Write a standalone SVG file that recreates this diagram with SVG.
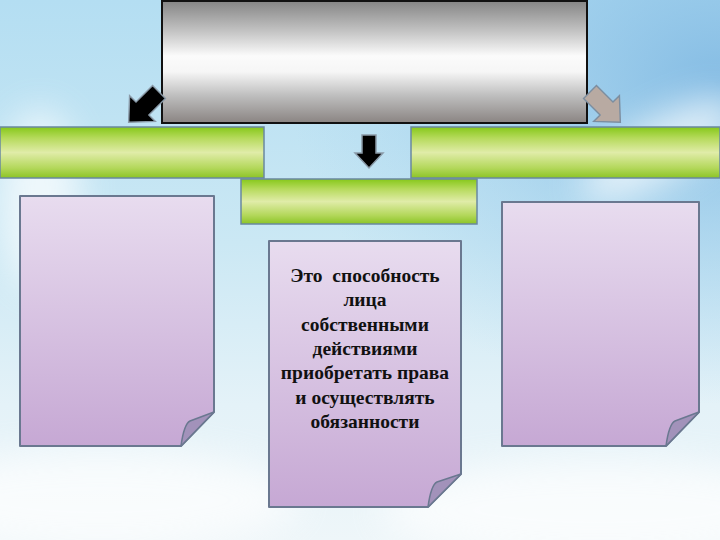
<svg xmlns="http://www.w3.org/2000/svg" width="720" height="540" viewBox="0 0 720 540">
<defs>
<linearGradient id="sky" x1="0" y1="0" x2="0" y2="1">
<stop offset="0" stop-color="#b4def2"/>
<stop offset="0.45" stop-color="#cbe8f4"/>
<stop offset="0.75" stop-color="#e4f2f8"/>
<stop offset="1" stop-color="#eef6f9"/>
</linearGradient>
<radialGradient id="blue" cx="1" cy="0.15" r="0.6">
<stop offset="0" stop-color="#7fb8e2" stop-opacity="0.9"/>
<stop offset="1" stop-color="#9fd0ee" stop-opacity="0"/>
</radialGradient>
<linearGradient id="silver" x1="0" y1="0" x2="0" y2="1">
<stop offset="0" stop-color="#858585"/>
<stop offset="0.25" stop-color="#c4c4c4"/>
<stop offset="0.45" stop-color="#fbfbfb"/>
<stop offset="0.58" stop-color="#f6f6f6"/>
<stop offset="0.78" stop-color="#bdbdbd"/>
<stop offset="1" stop-color="#8a8482"/>
</linearGradient>
<linearGradient id="green" x1="0" y1="0" x2="0" y2="1">
<stop offset="0" stop-color="#86c81a"/>
<stop offset="0.22" stop-color="#b6da5c"/>
<stop offset="0.5" stop-color="#e0eca8"/>
<stop offset="0.8" stop-color="#b4d85c"/>
<stop offset="1" stop-color="#8cc426"/>
</linearGradient>
<linearGradient id="lilac" x1="0" y1="0" x2="0" y2="1">
<stop offset="0" stop-color="#e8dcef"/>
<stop offset="1" stop-color="#c6a8d4"/>
</linearGradient>
<filter id="blur" x="-50%" y="-50%" width="200%" height="200%"><feGaussianBlur stdDeviation="18"/></filter>
<path id="arr" d="M-7,0 H7 V18 H14 L0,33 L-14,18 H-7 Z"/>
</defs>
<style>
.green{fill:url(#green);stroke:#6a88a0;stroke-width:1.5}
.page{fill:url(#lilac);stroke:#6a7890;stroke-width:2;stroke-linejoin:round}
.fold{fill:#a292ba;stroke:#6a7890;stroke-width:1.5;stroke-linejoin:round}
.txt{font-family:"Liberation Serif","DejaVu Serif",serif;font-weight:bold;font-size:19.5px;fill:#111;text-anchor:middle;white-space:pre}
</style>
<rect width="720" height="540" fill="url(#sky)"/>
<rect width="720" height="540" fill="url(#blue)"/>
<g filter="url(#blur)" fill="#ffffff" opacity="0.7">
<ellipse cx="660" cy="150" rx="90" ry="30" transform="rotate(-30 660 150)"/>
<ellipse cx="100" cy="500" rx="200" ry="50"/>
<ellipse cx="600" cy="510" rx="220" ry="50"/>
<ellipse cx="40" cy="200" rx="40" ry="90"/>
</g>
<g id="top">
<rect x="162" y="1" width="425" height="122" fill="url(#silver)" stroke="#111" stroke-width="2"/>
</g>
<g id="connectors">
<use href="#arr" transform="translate(159,92) rotate(45) scale(1.3)" fill="#000" stroke="#8a9aa8" stroke-width="1.1"/>
<use href="#arr" transform="translate(369,135)" fill="#000" stroke="#8a9aa8" stroke-width="1.5"/>
<use href="#arr" transform="translate(590,92) rotate(-45) scale(1.3)" fill="#b8aaa2" stroke="#7c8ea0" stroke-width="1.1"/>
</g>
<g id="green-left"><rect class="green" x="0" y="127" width="264" height="51"/></g>
<g id="green-right"><rect class="green" x="411" y="127" width="309" height="51"/></g>
<g id="green-mid"><rect class="green" x="241" y="179" width="236" height="45"/></g>
<g id="page-left">
<path class="page" d="M20,196 H214 V412 L181,446 H20 Z"/>
<path class="fold" d="M181,446 Q184,424 190,421 L214,412 Z"/>
</g>
<g id="page-mid">
<path class="page" d="M269,241 H461 V474 L428,507 H269 Z"/>
<path class="fold" d="M428,507 Q431,485 437,482 L461,474 Z"/>
<text class="txt" x="365" y="282" xml:space="preserve">Это  способность</text>
<text class="txt" x="365" y="306">лица</text>
<text class="txt" x="365" y="331">собственными</text>
<text class="txt" x="365" y="355">действиями</text>
<text class="txt" x="365" y="379">приобретать права</text>
<text class="txt" x="365" y="404">и осуществлять</text>
<text class="txt" x="365" y="428">обязанности</text>
</g>
<g id="page-right">
<path class="page" d="M502,202 H699 V412 L666,446 H502 Z"/>
<path class="fold" d="M666,446 Q669,424 675,421 L699,412 Z"/>
</g>
</svg>
